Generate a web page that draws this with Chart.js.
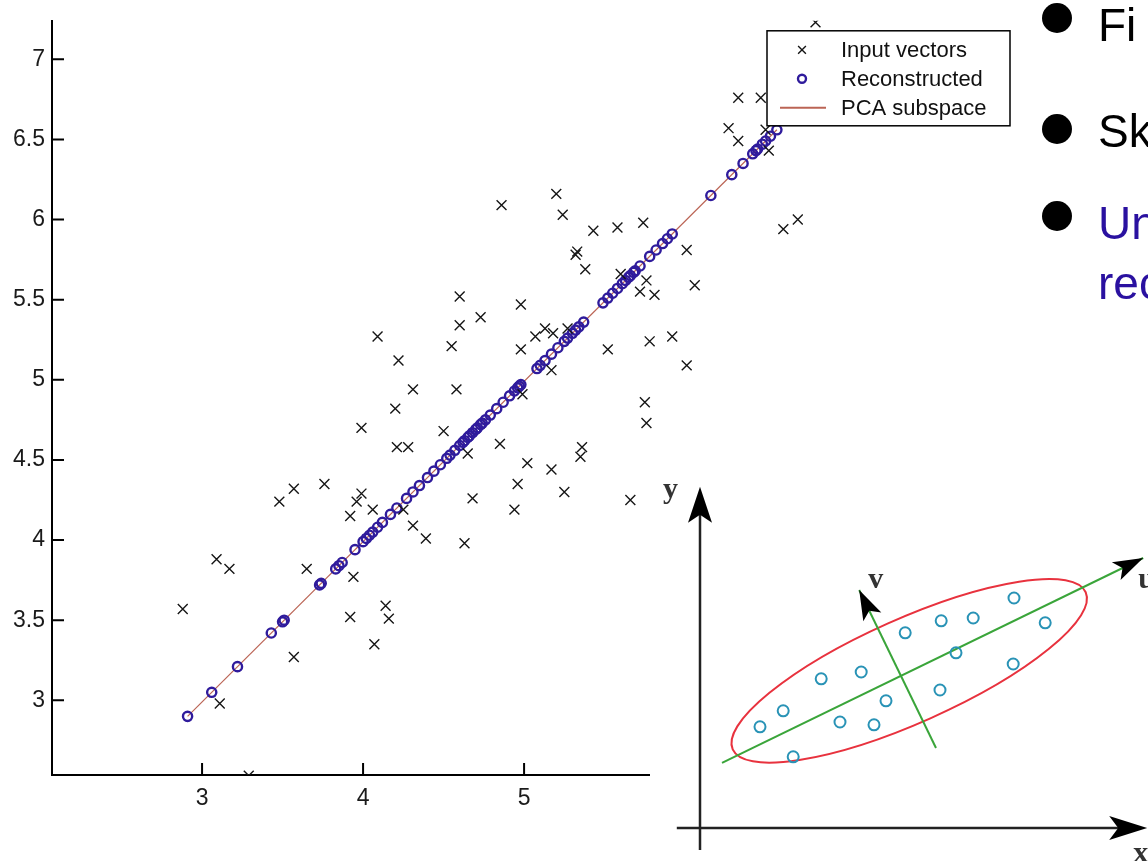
<!DOCTYPE html>
<html>
<head>
<meta charset="utf-8">
<script src="https://cdn.jsdelivr.net/npm/chart.js@4.4.0/dist/chart.umd.min.js"></script>
<style>
  html, body { margin: 0; padding: 0; background: #fff; }
  body { width: 1148px; height: 861px; overflow: hidden; position: relative; font-family: "Liberation Sans", Arial, sans-serif; }
  #pca { position: absolute; left: 0; top: 0; width: 1148px; height: 861px; }
  #sketch { position: absolute; left: 650px; top: 470px; width: 498px; height: 391px; background: #fff; }
  .dot { position: absolute; left: 1042px; width: 30px; height: 30px; border-radius: 50%; background: #000; }
  .txt { position: absolute; left: 1098px; font-size: 46px; line-height: 46px; white-space: nowrap; color: #000; }
  .blue { color: #2a11a0; }
</style>
</head>
<body>
<canvas id="pca" width="1148" height="861"></canvas>
<canvas id="sketch" width="498" height="391"></canvas>

<div class="dot" style="top:3px"></div>
<div class="txt" style="top:2px">Fi</div>
<div class="dot" style="top:114px"></div>
<div class="txt" style="top:108px">Sk</div>
<div class="dot" style="top:201px"></div>
<div class="txt blue" style="top:200px">Un</div>
<div class="txt blue" style="top:260px">rec</div>

<script>
// input vectors (crosses)
const inputX = [6.81, 6.33, 6.47, 6.27, 6.33, 6.50, 6.52, 4.86, 5.20, 5.24, 5.43, 5.58, 5.74, 5.32, 5.33, 5.38,
  6.01, 6.06, 6.61, 6.70, 5.60, 5.76, 5.72, 5.81, 4.98, 4.73, 4.60, 4.60, 4.55, 4.98, 5.13, 5.18, 5.27, 5.07,
  5.52, 5.78, 5.92, 6.01, 5.17, 4.99, 5.75, 5.76, 4.22, 4.09, 4.31, 4.58, 4.20, 3.99, 4.50, 4.21, 4.28, 4.85,
  4.65, 5.02, 5.17, 5.36, 5.35, 4.96, 5.25, 4.68, 4.94, 5.66, 4.31, 4.39, 4.63, 3.76, 3.57, 3.48, 3.99, 3.96,
  3.92, 4.06, 4.25, 3.09, 3.17, 3.65, 3.94, 2.88, 3.92, 4.14, 4.16, 4.07, 3.57, 3.11, 3.29];
const inputY = [7.23, 6.76, 6.76, 6.57, 6.49, 6.56, 6.43, 6.09, 6.16, 6.03, 5.93, 5.95, 5.98, 5.78, 5.80, 5.69,
  5.81, 5.59, 5.94, 6.00, 5.66, 5.62, 5.55, 5.53, 5.47, 5.39, 5.52, 5.34, 5.21, 5.19, 5.32, 5.29, 5.32, 5.27,
  5.19, 5.24, 5.27, 5.09, 5.06, 4.91, 4.86, 4.73, 5.12, 5.27, 4.94, 4.94, 4.82, 4.70, 4.68, 4.58, 4.58, 4.60,
  4.54, 4.48, 4.44, 4.58, 4.52, 4.35, 4.30, 4.26, 4.19, 4.25, 4.09, 4.01, 3.98, 4.35, 4.32, 4.24, 4.29, 4.24,
  4.15, 4.19, 4.19, 3.88, 3.82, 3.82, 3.77, 3.57, 3.52, 3.59, 3.51, 3.35, 3.27, 2.98, 2.53];

// reconstructed vectors (circles on the subspace)
const reconX = [2.91, 3.06, 3.22, 3.43, 3.50, 3.51, 3.73, 3.74, 3.83, 3.85, 3.87, 3.95, 4.00, 4.02, 4.04, 4.06,
  4.09, 4.12, 4.17, 4.21, 4.27, 4.31, 4.35, 4.40, 4.44, 4.48, 4.52, 4.54, 4.57, 4.60, 4.62, 4.63, 4.65, 4.66,
  4.68, 4.70, 4.71, 4.73, 4.74, 4.76, 4.79, 4.83, 4.87, 4.91, 4.94, 4.96, 4.97, 4.98, 5.08, 5.10, 5.13, 5.17,
  5.21, 5.25, 5.27, 5.30, 5.32, 5.34, 5.37, 5.49, 5.52, 5.55, 5.58, 5.61, 5.63, 5.65, 5.66, 5.68, 5.69, 5.72,
  5.78, 5.82, 5.86, 5.89, 5.92, 6.16, 6.29, 6.36, 6.42, 6.44, 6.45, 6.48, 6.50, 6.53, 6.57];
const reconY = [2.90, 3.05, 3.21, 3.42, 3.49, 3.50, 3.72, 3.73, 3.82, 3.84, 3.86, 3.94, 3.99, 4.01, 4.03, 4.05,
  4.08, 4.11, 4.16, 4.20, 4.26, 4.30, 4.34, 4.39, 4.43, 4.47, 4.51, 4.53, 4.56, 4.59, 4.61, 4.62, 4.64, 4.65,
  4.67, 4.69, 4.70, 4.72, 4.73, 4.75, 4.78, 4.82, 4.86, 4.90, 4.93, 4.95, 4.96, 4.97, 5.07, 5.09, 5.12, 5.16,
  5.20, 5.24, 5.26, 5.29, 5.31, 5.33, 5.36, 5.48, 5.51, 5.54, 5.57, 5.60, 5.62, 5.64, 5.65, 5.67, 5.68, 5.71,
  5.77, 5.81, 5.85, 5.88, 5.91, 6.15, 6.28, 6.35, 6.41, 6.43, 6.44, 6.47, 6.49, 6.52, 6.56];

// PCA subspace segment
const subspaceX = [2.91, 6.57];
const subspaceY = [2.90, 6.56];

const xTicks = [3, 4, 5, 6, 7, 8];
const yTicks = [3, 3.5, 4, 4.5, 5, 5.5, 6, 6.5, 7];

// sketch (bottom right): samples, principal axes, ellipse
const sampleX = [1.50, 2.08, 2.33, 3.03, 3.50, 4.03, 4.35, 4.65, 5.13, 6.00, 6.03, 6.40, 6.83, 7.83, 7.85, 8.63];
const sampleY = [2.53, 2.93, 1.78, 3.73, 2.65, 3.90, 2.58, 3.18, 4.88, 3.45, 5.18, 4.38, 5.25, 4.10, 5.75, 5.13];
const uAxisX = [0.55, 11.08];
const uAxisY = [1.63, 6.75];
const vAxisX = [5.90, 3.98];
const vAxisY = [2.00, 5.95];
const ellipseCenter = [5.23, 3.93];
const ellipseRadii = [4.83, 1.30];
const ellipseAngle = 24;
const frameX = [-0.58, 11.18];
const frameY = [-0.55, 8.53];

const pts = (xs, ys) => xs.map((x, i) => ({ x: x, y: ys[i] }));
const tickFont = { family: 'Liberation Sans', size: 23 };

// matlab style ticks drawn inward
const innerTicks = {
    id: 'innerTicks',
    afterDatasetsDraw(chart) {
        const { ctx, chartArea: a, scales: { x, y } } = chart;
        ctx.save();
        ctx.strokeStyle = '#000';
        ctx.lineWidth = 2;
        ctx.beginPath();
        x.ticks.forEach(t => {
            const px = x.getPixelForValue(t.value);
            ctx.moveTo(px, a.bottom);
            ctx.lineTo(px, a.bottom - 12);
        });
        y.ticks.forEach(t => {
            const py = y.getPixelForValue(t.value);
            ctx.moveTo(a.left, py);
            ctx.lineTo(a.left + 12, py);
        });
        ctx.stroke();
        ctx.restore();
    }
};

// boxed legend in the upper right corner of the axes
const boxLegend = {
    id: 'boxLegend',
    afterDraw(chart) {
        const ctx = chart.ctx, a = chart.chartArea;
        const w = 243, h = 95;
        const left = a.right - 10 - w, top = a.top + 10;
        ctx.save();
        ctx.fillStyle = '#fff';
        ctx.fillRect(left, top, w, h);
        ctx.strokeStyle = '#000';
        ctx.lineWidth = 1.5;
        ctx.strokeRect(left, top, w, h);
        ctx.font = '22px "Liberation Sans"';
        ctx.textBaseline = 'middle';
        chart.data.datasets.forEach((ds, i) => {
            const cy = top + 19 + i * 29;
            const mx = left + 35;
            ctx.strokeStyle = ds.borderColor;
            ctx.lineWidth = ds.borderWidth;
            if (ds.showLine) {
                ctx.lineWidth = 2;
                ctx.beginPath();
                ctx.moveTo(mx - 22, cy);
                ctx.lineTo(mx + 24, cy);
                ctx.stroke();
            } else {
                ctx.fillStyle = '#fff';
                Chart.helpers.drawPoint(ctx, {
                    pointStyle: ds.pointStyle,
                    radius: ds.pointStyle === 'circle' ? 4 : 5.5,
                    borderWidth: ds.borderWidth,
                    rotation: 0
                }, mx, cy);
            }
            ctx.fillStyle = '#111';
            ctx.fillText(ds.label, left + 74, cy + 1);
        });
        ctx.restore();
    }
};

new Chart(document.getElementById('pca'), {
    type: 'scatter',
    data: {
        datasets: [
            {
                label: 'Input vectors',
                data: pts(inputX, inputY),
                pointStyle: 'crossRot',
                pointRadius: 7,
                borderColor: '#161616',
                borderWidth: 1.4,
                order: 1
            },
            {
                label: 'Reconstructed',
                data: pts(reconX, reconY),
                pointStyle: 'circle',
                pointRadius: 4.6,
                borderColor: '#2f1b9c',
                backgroundColor: 'rgba(255,255,255,0)',
                borderWidth: 2.4,
                order: 2
            },
            {
                label: 'PCA subspace',
                data: pts(subspaceX, subspaceY),
                showLine: true,
                pointRadius: 0,
                borderColor: '#bb6455',
                borderWidth: 1.2,
                order: 3
            }
        ]
    },
    options: {
        responsive: false,
        animation: false,
        layout: { autoPadding: false, padding: { top: 18, right: 128, left: 0, bottom: 0 } },
        plugins: { legend: { display: false }, tooltip: { enabled: false } },
        scales: {
            x: {
                type: 'linear',
                min: 2.068,
                max: 8.08,
                afterBuildTicks: s => { s.ticks = xTicks.map(v => ({ value: v })) },
                afterFit: s => { s.height = 86 },
                grid: { drawOnChartArea: false, drawTicks: false },
                border: { display: true, color: '#000', width: 2 },
                ticks: { font: tickFont, color: '#1a1a1a', padding: 10, maxRotation: 0, callback: v => String(v) }
            },
            y: {
                type: 'linear',
                min: 2.534,
                max: 7.24,
                afterBuildTicks: s => { s.ticks = yTicks.map(v => ({ value: v })) },
                afterFit: s => { s.width = 52 },
                grid: { drawOnChartArea: false, drawTicks: false },
                border: { display: true, color: '#000', width: 2 },
                ticks: { font: tickFont, color: '#1a1a1a', padding: 7, callback: v => String(v) }
            }
        }
    },
    plugins: [innerTicks, boxLegend]
});

// ---- sketch of principal axes ----
function arrowHead(ctx, fx, fy, tx, ty, len, hw, notch) {
    const d = Math.hypot(tx - fx, ty - fy);
    const ux = (tx - fx) / d, uy = (ty - fy) / d;
    const bx = tx - ux * len, by = ty - uy * len;
    ctx.beginPath();
    ctx.moveTo(tx, ty);
    ctx.lineTo(bx - uy * hw, by + ux * hw);
    ctx.lineTo(bx + ux * notch, by + uy * notch);
    ctx.lineTo(bx + uy * hw, by - ux * hw);
    ctx.closePath();
    ctx.fill();
}

const sketchFrame = {
    id: 'sketchFrame',
    beforeDatasetsDraw(chart) {
        const { ctx, scales: { x, y } } = chart;
        ctx.save();
        // coordinate axes
        ctx.strokeStyle = '#222';
        ctx.lineWidth = 2.5;
        ctx.beginPath();
        ctx.moveTo(x.getPixelForValue(frameX[0]), y.getPixelForValue(0));
        ctx.lineTo(x.getPixelForValue(frameX[1]) - 10, y.getPixelForValue(0));
        ctx.moveTo(x.getPixelForValue(0), y.getPixelForValue(frameY[0]));
        ctx.lineTo(x.getPixelForValue(0), y.getPixelForValue(frameY[1]) + 10);
        ctx.stroke();
        // covariance ellipse
        const cx = x.getPixelForValue(ellipseCenter[0]);
        const cy = y.getPixelForValue(ellipseCenter[1]);
        const rx = x.getPixelForValue(ellipseCenter[0] + ellipseRadii[0]) - cx;
        const ry = x.getPixelForValue(ellipseCenter[0] + ellipseRadii[1]) - cx;
        ctx.strokeStyle = '#e8323e';
        ctx.lineWidth = 2;
        ctx.beginPath();
        ctx.ellipse(cx, cy, rx, ry, -ellipseAngle * Math.PI / 180, 0, Math.PI * 2);
        ctx.stroke();
        ctx.restore();
    },
    afterDatasetsDraw(chart) {
        const { ctx, scales: { x, y } } = chart;
        const X = v => x.getPixelForValue(v), Y = v => y.getPixelForValue(v);
        ctx.save();
        ctx.fillStyle = '#000';
        const xTip = [X(frameX[1]), Y(0)], yTip = [X(0), Y(frameY[1])];
        const uTip = [X(uAxisX[1]), Y(uAxisY[1])], vTip = [X(vAxisX[1]), Y(vAxisY[1])];
        arrowHead(ctx, X(frameX[0]), Y(0), xTip[0], xTip[1], 38, 12, 9);
        arrowHead(ctx, X(0), Y(frameY[0]), yTip[0], yTip[1], 36, 12, 8);
        arrowHead(ctx, X(uAxisX[0]), Y(uAxisY[0]), uTip[0], uTip[1], 30, 10, 7);
        arrowHead(ctx, X(vAxisX[0]), Y(vAxisY[0]), vTip[0], vTip[1], 30, 10, 7);
        ctx.fillStyle = '#333';
        ctx.font = 'bold 30px "Liberation Serif"';
        ctx.textBaseline = 'alphabetic';
        ctx.fillText('y', yTip[0] - 37, yTip[1] + 11);
        ctx.fillText('v', vTip[0] + 9, vTip[1] - 2);
        ctx.fillText('u', uTip[0] - 5, uTip[1] + 30);
        ctx.fillText('x', xTip[0] - 14, xTip[1] + 34);
        ctx.restore();
    }
};

new Chart(document.getElementById('sketch'), {
    type: 'scatter',
    data: {
        datasets: [
            {
                label: 'samples',
                data: pts(sampleX, sampleY),
                pointStyle: 'circle',
                pointRadius: 5.5,
                borderColor: '#2993b6',
                backgroundColor: 'rgba(255,255,255,0)',
                borderWidth: 2,
                order: 1
            },
            {
                label: 'u',
                data: pts(uAxisX, uAxisY),
                showLine: true,
                pointRadius: 0,
                borderColor: '#3aa53a',
                borderWidth: 2,
                order: 2
            },
            {
                label: 'v',
                data: pts(vAxisX, vAxisY),
                showLine: true,
                pointRadius: 0,
                borderColor: '#3aa53a',
                borderWidth: 2,
                order: 3
            }
        ]
    },
    options: {
        responsive: false,
        animation: false,
        layout: { autoPadding: false, padding: 0 },
        plugins: { legend: { display: false }, tooltip: { enabled: false } },
        scales: {
            x: { type: 'linear', display: false, min: -1.25, max: 11.2 },
            y: { type: 'linear', display: false, min: -0.825, max: 8.95 }
        }
    },
    plugins: [sketchFrame]
});
</script>
</body>
</html>
